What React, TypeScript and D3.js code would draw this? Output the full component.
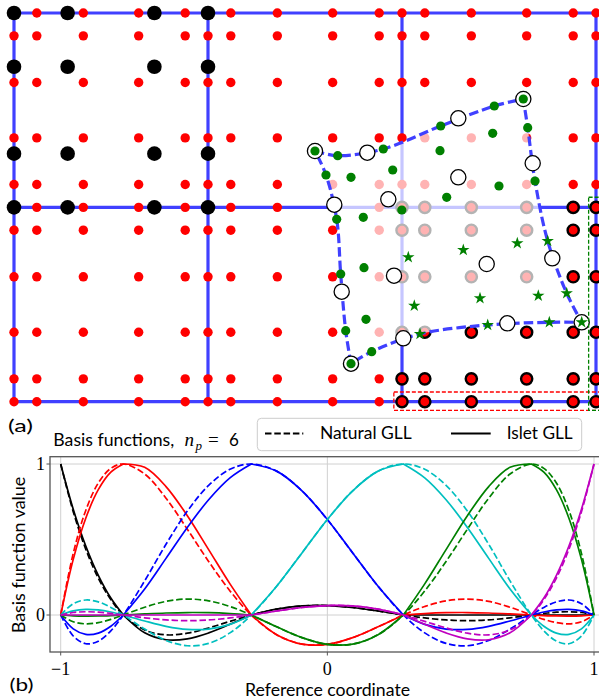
import React from 'react';
import * as d3 from 'd3';

// ---------- Panel (a) data ----------
const GLL6 = [0, 0.1175, 0.3574, 0.6426, 0.8825, 1];
const GLL4 = [0, 0.2764, 0.7236, 1];
const ELEMENT_EDGES_X = [0, 1, 2, 3];
const ELEMENT_EDGES_Y = [0, 1, 2];
const ELEMENT_COLS = [0, 1, 2];
const ELEMENT_ROWS = [0, 1];
const NP4_ELEMENT = [0, 1]; // col,row of element with np=4 nodes (black)
const TARGET_ELEMENT = [2, 0]; // col,row of target element (circled nodes)

// Departure (deformed) element, np=6 nodes, row-major (top row first, left to right)
const DEP6_X = [
  1.5515, 1.6686, 1.9036, 2.1995, 2.4758, 2.6253,
  1.6082, 1.7371, 1.9521, 2.1959, 2.4675, 2.6479,
  1.6634, 1.8005, 1.999, 2.2304, 2.5, 2.6856,
  1.684, 1.8041, 2.0325, 2.316, 2.5943, 2.751,
  1.7098, 1.8144, 2.0634, 2.4021, 2.7026, 2.849,
  1.7371, 1.8438, 2.0928, 2.4418, 2.7593, 2.9263,
];
const DEP6_Y = [
  1.2899, 1.2658, 1.3002, 1.4186, 1.5215, 1.5575,
  1.1665, 1.1546, 1.1922, 1.2915, 1.381, 1.4098,
  0.9385, 0.9488, 0.9864, 1.0517, 1.1099, 1.1356,
  0.6571, 0.6895, 0.743, 0.7806, 0.815, 0.8269,
  0.3653, 0.424, 0.494, 0.532, 0.5454, 0.5578,
  0.1955, 0.2573, 0.3483, 0.3947, 0.4085, 0.4085,
];
// Departure element, np=4 nodes (white circles), row-major
const DEP4_X = [
  1.5515, 1.8211, 2.2902, 2.6253,
  1.651, 1.9294, 2.2902, 2.6737,
  1.6892, 1.9588, 2.4366, 2.7747,
  1.7371, 2.0067, 2.5428, 2.9263,
];
const DEP4_Y = [
  1.2899, 1.2812, 1.4582, 1.5575,
  1.0136, 1.0414, 1.1546, 1.2267,
  0.566, 0.6483, 0.7085, 0.7378,
  0.1955, 0.3262, 0.4034, 0.4085,
];
const RED_BOX = { x0: 1.958, x1: 3.05, y0: -0.045, y1: 0.05 };
const GREEN_BOX = { x0: 2.962, x1: 3.05, y0: -0.045, y1: 1.052 };

// ---------- Panel (b) data ----------
const REF_X = [-1, -0.953, -0.906, -0.859, -0.812, -0.7651, -0.6851, -0.6051, -0.5251, -0.4452, -0.3652, -0.2852,
  -0.1902, -0.0951, 0, 0.0951, 0.1902, 0.2852, 0.3652, 0.4452, 0.5251, 0.6051, 0.6851, 0.7651, 0.812, 0.859, 0.906, 0.953, 1];
const NODE_INDEX = [0, 5, 11, 17, 23, 28];

const NAT_BLACK = [1, 0.6844, 0.4357, 0.2444, 0.1018, 0, -0.0995, -0.1315, -0.1205, -0.0858, -0.0421, 0, 0.0388, 0.0599, 0.0625, 0.0495, 0.0264, 0, -0.0196, -0.0329, -0.0375, -0.0324, -0.0186, 0, 0.0106, 0.0185, 0.0215, 0.0165, 0];
const NAT_RED = [0, 0.4078, 0.6924, 0.874, 0.9711, 1, 0.9337, 0.7735, 0.568, 0.3546, 0.1593, 0, -0.1301, -0.1928, -0.1946, -0.1501, -0.0783, 0, 0.0564, 0.0937, 0.1056, 0.0903, 0.0515, 0, -0.0289, -0.0506, -0.0584, -0.0446, 0];
const NAT_BLUE = [0, -0.139, -0.1903, -0.1733, -0.1048, 0, 0.2261, 0.4683, 0.688, 0.8584, 0.9646, 1, 0.9528, 0.8224, 0.6321, 0.4111, 0.1904, 0, -0.1186, -0.188, -0.2036, -0.1683, -0.0932, 0, 0.0503, 0.0869, 0.0992, 0.0749, 0];
const NAT_CYAN = [0, 0.0749, 0.0992, 0.0869, 0.0503, 0, -0.0932, -0.1683, -0.2036, -0.188, -0.1186, 0, 0.1904, 0.4111, 0.6321, 0.8224, 0.9528, 1, 0.9646, 0.8584, 0.688, 0.4683, 0.2261, 0, -0.1048, -0.1733, -0.1903, -0.139, 0];
const NAT_GREEN = [0, -0.0446, -0.0584, -0.0506, -0.0289, 0, 0.0515, 0.0903, 0.1056, 0.0937, 0.0564, 0, -0.0783, -0.1501, -0.1946, -0.1928, -0.1301, 0, 0.1593, 0.3546, 0.568, 0.7735, 0.9337, 1, 0.9711, 0.874, 0.6924, 0.4078, 0];
const NAT_MAGENTA = [0, 0.0165, 0.0215, 0.0185, 0.0106, 0, -0.0186, -0.0324, -0.0375, -0.0329, -0.0196, 0, 0.0264, 0.0495, 0.0625, 0.0599, 0.0388, 0, -0.0421, -0.0858, -0.1205, -0.1315, -0.0995, 0, 0.1018, 0.2444, 0.4357, 0.6844, 1];

const ISL_BLACK = [1, 0.7008, 0.4572, 0.2629, 0.1123, 0, -0.1181, -0.1638, -0.158, -0.1187, -0.0617, 0, 0.0388, 0.0599, 0.0625, 0.0495, 0.0264, 0, 0, 0, 0, 0, 0, 0, 0, 0, 0, 0, 0];
const ISL_RED = [0, 0.3685, 0.6412, 0.8298, 0.9459, 1, 0.978, 0.8506, 0.6574, 0.4331, 0.206, 0, -0.1301, -0.1928, -0.1946, -0.1501, -0.0783, 0, 0.0097, 0.0152, 0.0163, 0.0132, 0.0072, 0, -0.0037, -0.0064, -0.0072, -0.0054, 0];
const ISL_BLUE = [0, -0.0915, -0.1283, -0.1198, -0.0743, 0, 0.1724, 0.375, 0.5798, 0.7634, 0.9081, 1, 0.9528, 0.8224, 0.6321, 0.4111, 0.1904, 0, -0.0621, -0.093, -0.0954, -0.0749, -0.0395, 0, 0.0198, 0.0334, 0.0372, 0.0274, 0];
const ISL_CYAN = [0, 0.0274, 0.0372, 0.0334, 0.0198, 0, -0.0395, -0.0749, -0.0954, -0.093, -0.0621, 0, 0.1904, 0.4111, 0.6321, 0.8224, 0.9528, 1, 0.9081, 0.7634, 0.5798, 0.375, 0.1724, 0, -0.0743, -0.1198, -0.1283, -0.0915, 0];
const ISL_GREEN = [0, -0.0054, -0.0072, -0.0064, -0.0037, 0, 0.0072, 0.0132, 0.0163, 0.0152, 0.0097, 0, -0.0783, -0.1501, -0.1946, -0.1928, -0.1301, 0, 0.206, 0.4331, 0.6574, 0.8506, 0.978, 1, 0.9459, 0.8298, 0.6412, 0.3685, 0];
const ISL_MAGENTA = [0, 0, 0, 0, 0, 0, 0, 0, 0, 0, 0, 0, 0.0264, 0.0495, 0.0625, 0.0599, 0.0388, 0, -0.0617, -0.1187, -0.158, -0.1638, -0.1181, 0, 0.1123, 0.2629, 0.4572, 0.7008, 1];

const NATURAL = [NAT_BLACK, NAT_RED, NAT_BLUE, NAT_CYAN, NAT_GREEN, NAT_MAGENTA];
const ISLET = [ISL_BLACK, ISL_RED, ISL_BLUE, ISL_CYAN, ISL_GREEN, ISL_MAGENTA];
const SERIES_COLORS = ['#000000', '#ff0000', '#0000ff', '#00bfbf', '#008000', '#bf00bf'];

const X_TICKS = [-1, 0, 1];
const X_TICK_LABELS = ['\u22121', '0', '1'];
const Y_TICKS = [0, 1];
const Y_TICK_LABELS = ['0', '1'];

const SANS = "Lato, 'DejaVu Sans', sans-serif";
const SERIF = "'Liberation Serif', 'DejaVu Serif', serif";

export default function App() {
  // ----- panel (a) scales -----
  const xs = d3.scaleLinear().domain([0, 3]).range([14, 596]);
  const ys = d3.scaleLinear().domain([0, 2]).range([401.7, 13]);
  const gridBlue = '#4040ff';

  const uniq = (arr: number[]) => Array.from(new Set(arr.map((v) => +v.toFixed(4)))).sort((a, b) => a - b);
  const gx = uniq(ELEMENT_COLS.flatMap((c) => GLL6.map((g) => c + g)));
  const gy = uniq(ELEMENT_ROWS.flatMap((r) => GLL6.map((g) => r + g)));
  const inTarget = (x: number, y: number) =>
    x >= TARGET_ELEMENT[0] - 1e-6 && x <= TARGET_ELEMENT[0] + 1 + 1e-6 && y >= TARGET_ELEMENT[1] - 1e-6 && y <= TARGET_ELEMENT[1] + 1 + 1e-6;

  const redDots: [number, number][] = [];
  gx.forEach((x) => gy.forEach((y) => { if (!inTarget(x, y)) redDots.push([x, y]); }));
  const circled: [number, number][] = [];
  GLL6.forEach((gyv) => GLL6.forEach((gxv) => circled.push([TARGET_ELEMENT[0] + gxv, TARGET_ELEMENT[1] + gyv])));
  const blackDots: [number, number][] = [];
  GLL4.forEach((gyv) => GLL4.forEach((gxv) => blackDots.push([NP4_ELEMENT[0] + gxv, NP4_ELEMENT[1] + gyv])));

  const dep6: [number, number][] = DEP6_X.map((x, i) => [x, DEP6_Y[i]]);
  const dep4: [number, number][] = DEP4_X.map((x, i) => [x, DEP4_Y[i]]);
  const P = (i: number, j: number) => dep6[j * 6 + i];
  const idx = [0, 1, 2, 3, 4, 5];
  const edges: [number, number][][] = [
    idx.map((i) => P(i, 0)),
    idx.map((j) => P(5, j)),
    idx.map((i) => P(5 - i, 5)),
    idx.map((j) => P(0, 5 - j)),
  ];
  const edgeLine = d3.line<[number, number]>().x((d) => xs(d[0])).y((d) => ys(d[1])).curve(d3.curveCatmullRom.alpha(0.5));
  const boundary = edges.map((e, k) => { const s = edgeLine(e) as string; return k === 0 ? s : 'L' + s.slice(1); }).join('') + 'Z';
  const starPath = d3.symbol().type(d3.symbolStar).size(48)() as string;

  // ----- panel (b) scales -----
  const bx = d3.scaleLinear().domain([-1, 1]).range([60.7, 594]);
  const by = d3.scaleLinear().domain([0, 1]).range([615, 464]);
  const axL = 50, axT = 456.7, axR = 604.7, axB = 652;
  const pts = (ys_: number[]) => REF_X.map((x, i) => [x, ys_[i]] as [number, number]);
  const curveLine = d3.line<[number, number]>().x((d) => bx(d[0])).y((d) => by(d[1])).curve(d3.curveCatmullRom.alpha(0.5));
  const naturalPath = (v: number[]) => curveLine(pts(v)) as string;
  const isletPath = (v: number[]) => {
    const p = pts(v);
    return NODE_INDEX.slice(0, -1).map((s, k) => {
      const str = curveLine(p.slice(s, NODE_INDEX[k + 1] + 1)) as string;
      return k === 0 ? str : 'L' + str.slice(1);
    }).join('');
  };

  return (
    <svg width={599} height={699} style={{ position: 'absolute', left: 0, top: 0, background: '#fff' }}>
      {/* ================= panel (a) ================= */}
      <g>
        {ELEMENT_EDGES_X.map((c) => (
          <line key={'v' + c} x1={xs(c)} x2={xs(c)} y1={ys(0)} y2={ys(2)} stroke={gridBlue} strokeWidth={3.2} />
        ))}
        {ELEMENT_EDGES_Y.map((r) => (
          <line key={'h' + r} x1={xs(0)} x2={xs(3)} y1={ys(r)} y2={ys(r)} stroke={gridBlue} strokeWidth={3.2} />
        ))}
        {redDots.map((d, i) => (
          <circle key={'r' + i} cx={xs(d[0])} cy={ys(d[1])} r={4.7} fill="#ff0000" />
        ))}
        {blackDots.map((d, i) => (
          <circle key={'k' + i} cx={xs(d[0])} cy={ys(d[1])} r={7.3} fill="#000" />
        ))}
        {circled.map((d, i) => (
          <circle key={'c' + i} cx={xs(d[0])} cy={ys(d[1])} r={5.6} fill="#ff0000" stroke="#000" strokeWidth={2.4} />
        ))}
        {/* lighten everything covered by the departure element */}
        <path d={boundary} fill="#fff" fillOpacity={0.7} stroke="none" />
        <path d={boundary} fill="none" stroke={gridBlue} strokeWidth={3.2} strokeDasharray="9.5,4" />
        {dep4.map((d, i) => (
          <circle key={'w' + i} cx={xs(d[0])} cy={ys(d[1])} r={7.6} fill="#fff" stroke="#000" strokeWidth={1.3} />
        ))}
        {dep6.map((d, i) =>
          d[0] > TARGET_ELEMENT[0] && d[1] < TARGET_ELEMENT[1] + 1 ? (
            <path key={'s' + i} d={starPath} transform={`translate(${xs(d[0])},${ys(d[1])})`} fill="#008000" />
          ) : (
            <circle key={'g' + i} cx={xs(d[0])} cy={ys(d[1])} r={4.6} fill="#008000" />
          )
        )}
        <rect x={xs(RED_BOX.x0)} y={ys(RED_BOX.y1)} width={xs(RED_BOX.x1) - xs(RED_BOX.x0)} height={ys(RED_BOX.y0) - ys(RED_BOX.y1)}
          fill="none" stroke="#ff0000" strokeWidth={1.3} strokeDasharray="4,2" />
        <rect x={xs(GREEN_BOX.x0)} y={ys(GREEN_BOX.y1)} width={xs(GREEN_BOX.x1) - xs(GREEN_BOX.x0)} height={ys(GREEN_BOX.y0) - ys(GREEN_BOX.y1)}
          fill="none" stroke="#008000" strokeWidth={1.3} strokeDasharray="4,2" />
      </g>
      <text x={8} y={432} fontFamily={SANS} fontSize={18} textLength={25} lengthAdjust="spacingAndGlyphs">(a)</text>

      {/* ================= panel (b) ================= */}
      <g>
        {X_TICKS.map((t) => (
          <line key={'gx' + t} x1={bx(t)} x2={bx(t)} y1={axT} y2={axB} stroke="#d0d0d0" strokeWidth={1} />
        ))}
        {Y_TICKS.map((t) => (
          <line key={'gy' + t} x1={axL} x2={axR} y1={by(t)} y2={by(t)} stroke="#d0d0d0" strokeWidth={1} />
        ))}
        {NATURAL.map((v, k) => (
          <g key={'ser' + k}>
            <path d={naturalPath(v)} fill="none" stroke={SERIES_COLORS[k]} strokeWidth={1.7} strokeDasharray="6.5,2.8" />
            <path d={isletPath(ISLET[k])} fill="none" stroke={SERIES_COLORS[k]} strokeWidth={1.7} />
          </g>
        ))}
        <rect x={axL} y={axT} width={axR - axL} height={axB - axT} fill="none" stroke="#555" strokeWidth={1.3} />
        {X_TICKS.map((t, i) => (
          <g key={'xt' + t}>
            <line x1={bx(t)} x2={bx(t)} y1={axB} y2={axB + 3.5} stroke="#555" strokeWidth={1} />
            <text x={bx(t)} y={674.5} textAnchor="middle" fontFamily={SERIF} fontSize={18}>{X_TICK_LABELS[i]}</text>
          </g>
        ))}
        {Y_TICKS.map((t, i) => (
          <g key={'yt' + t}>
            <line x1={axL - 3.5} x2={axL} y1={by(t)} y2={by(t)} stroke="#555" strokeWidth={1} />
            <text x={45} y={by(t) + 6} textAnchor="end" fontFamily={SERIF} fontSize={18}>{Y_TICK_LABELS[i]}</text>
          </g>
        ))}
      </g>

      {/* title */}
      <text y={445.7} fontSize={17} fill="#000">
        <tspan x={53.3} fontFamily={SANS} textLength={121} lengthAdjust="spacingAndGlyphs">Basis functions,</tspan>
        <tspan x={184.5} fontFamily={SERIF} fontStyle="italic" fontSize={19}>n</tspan>
        <tspan x={195.5} y={449.5} fontFamily={SERIF} fontStyle="italic" fontSize={13}>p</tspan>
        <tspan x={208} y={445.7} fontFamily={SERIF} fontSize={19}>=</tspan>
        <tspan x={229} fontFamily={SANS} fontSize={17}>6</tspan>
      </text>

      {/* legend */}
      <rect x={257.3} y={418.3} width={324.4} height={32.4} rx={4} fill="#fff" fillOpacity={0.85} stroke="#cccccc" strokeWidth={1} />
      <line x1={265} x2={303.3} y1={433.5} y2={433.5} stroke="#000" strokeWidth={1.8} strokeDasharray="6.5,2.8" />
      <text x={320} y={439.3} fontFamily={SANS} fontSize={17} textLength={91.7} lengthAdjust="spacingAndGlyphs">Natural GLL</text>
      <line x1={451} x2={490.7} y1={433.5} y2={433.5} stroke="#000" strokeWidth={1.8} />
      <text x={506.7} y={439.3} fontFamily={SANS} fontSize={17} textLength={66} lengthAdjust="spacingAndGlyphs">Islet GLL</text>

      {/* axis labels */}
      <text transform="translate(25,555) rotate(-90)" textAnchor="middle" fontFamily={SANS} fontSize={17}
        textLength={156.6} lengthAdjust="spacingAndGlyphs">Basis function value</text>
      <text x={327.5} y={695.5} textAnchor="middle" fontFamily={SANS} fontSize={17} textLength={165} lengthAdjust="spacingAndGlyphs">Reference coordinate</text>
      <text x={9.5} y={691} fontFamily={SANS} fontSize={18} textLength={24} lengthAdjust="spacingAndGlyphs">(b)</text>
    </svg>
  );
}
